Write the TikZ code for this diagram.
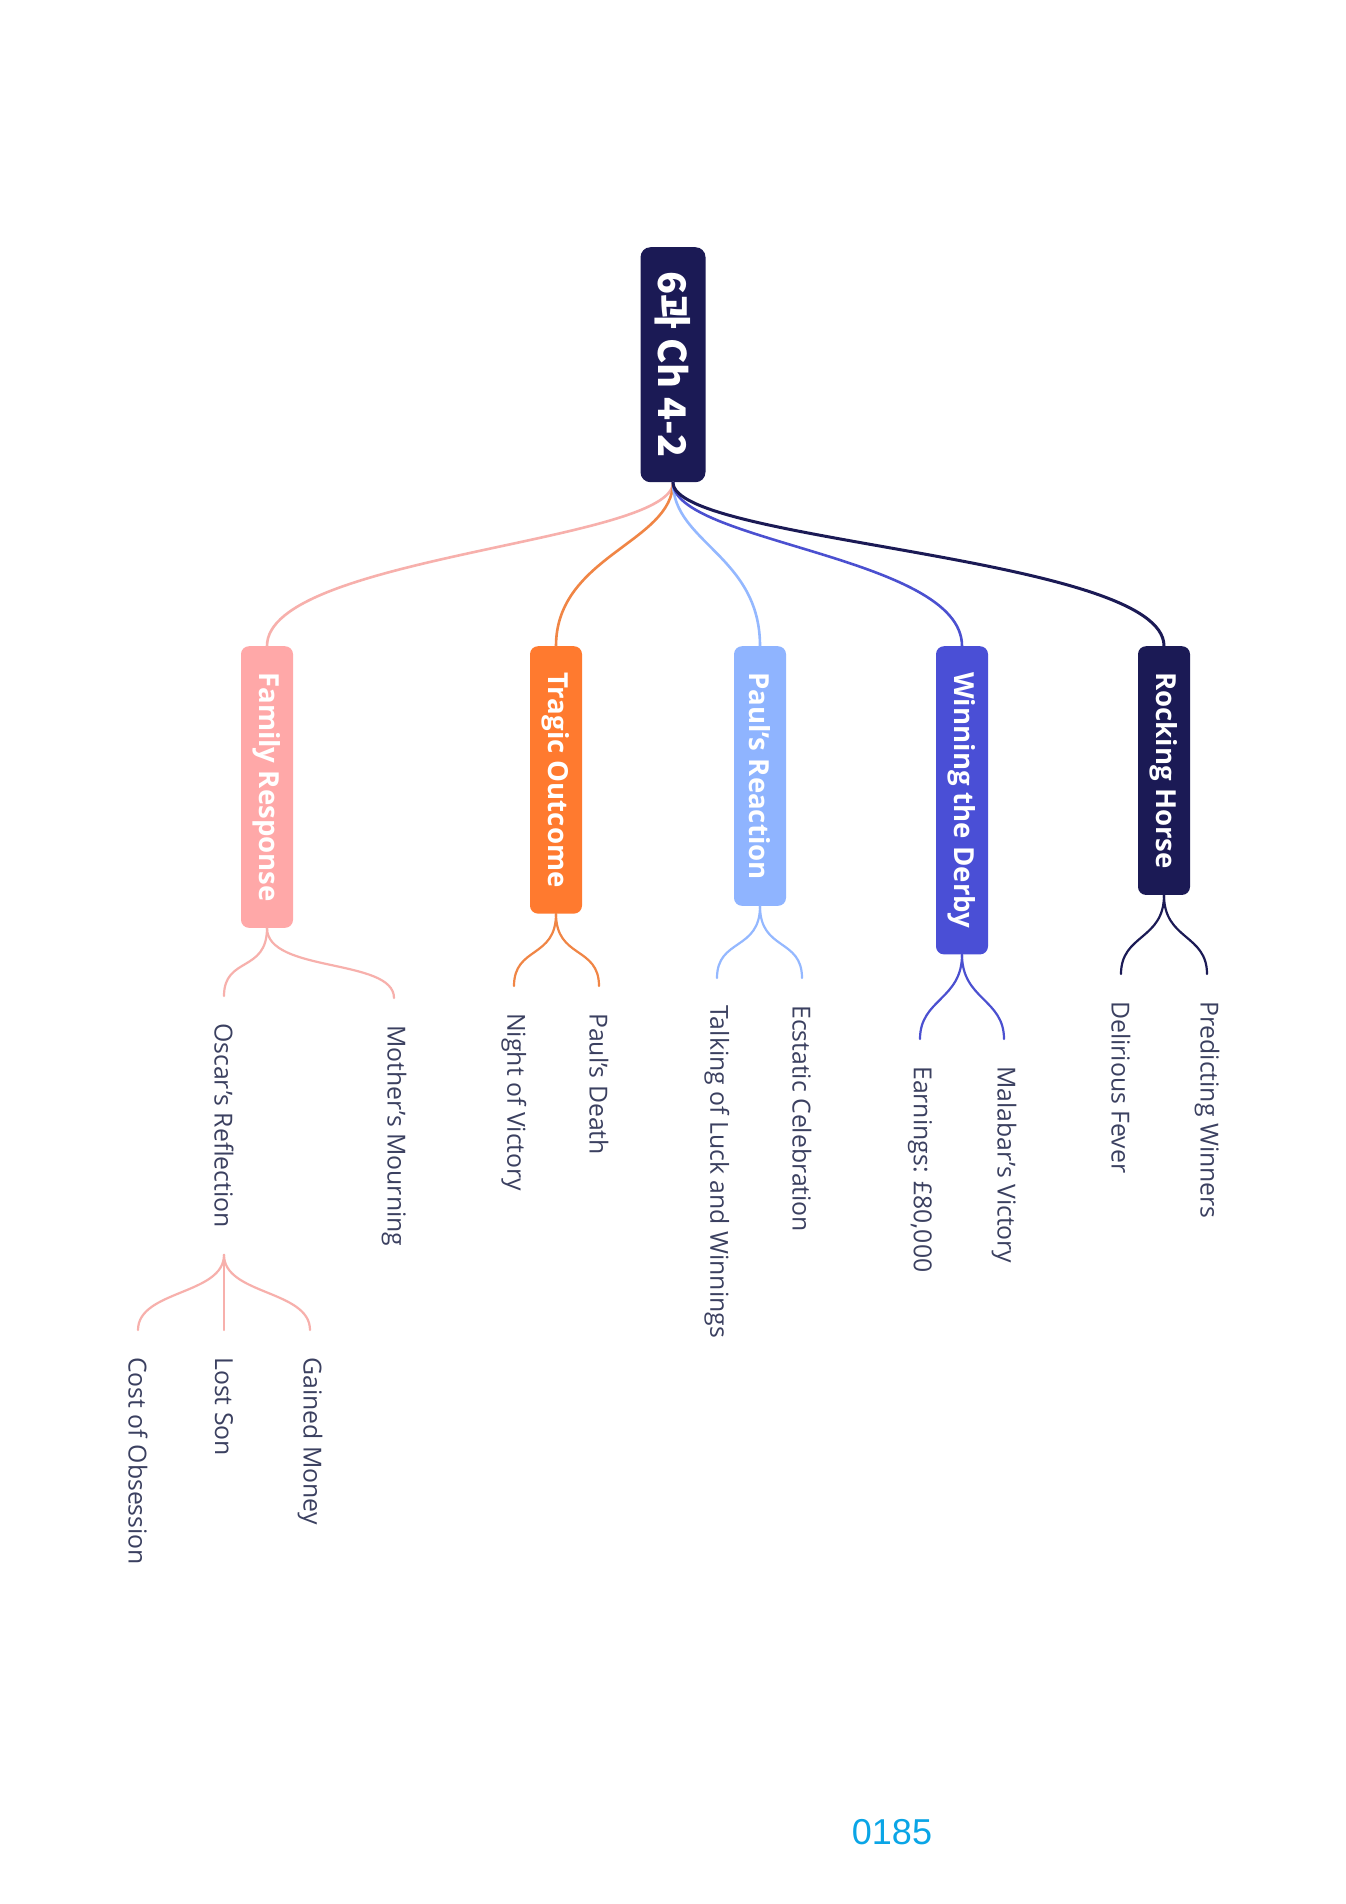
\documentclass[tikz,border=0pt]{standalone}
\usepackage{fontspec}
\setmainfont{Open Sans}
\newfontfamily\cjk{Noto Sans CJK KR}
\newfontfamily\arialfont{Liberation Sans}
\definecolor{navy}{HTML}{1B1A55}
\definecolor{cwin}{HTML}{4A4FD6}
\definecolor{cpaul}{HTML}{8FB4FF}
\definecolor{ctrag}{HTML}{FF7A2F}
\definecolor{cfam}{HTML}{FFA8A8}
\definecolor{lfam}{HTML}{F7B0AC}
\definecolor{ltrag}{HTML}{F08545}
\definecolor{lpaul}{HTML}{94B8FF}
\definecolor{lwin}{HTML}{4B50D0}
\definecolor{leaftext}{HTML}{3B4060}
\definecolor{numblue}{HTML}{0AA5E6}
\begin{document}
\begin{tikzpicture}[x=1pt,y=-1pt,
  leaf/.style={rotate=-90,anchor=west,inner xsep=27pt,inner ysep=2pt,font=\fontsize{24.8}{28}\selectfont,text=leaftext},
  branch/.style={rotate=-90,anchor=west,rounded corners=8pt,minimum height=52pt,inner xsep=26pt,font=\fontsize{27.6}{30}\selectfont\bfseries,text=white},
  rconn/.style={line width=2.6pt,line cap=round},
  lconn/.style={line width=2.2pt,line cap=round}]
\fill[white] (0,0) rectangle (1346,1904);
\useasboundingbox (0,0) rectangle (1346,1904);
% root
\node[rotate=-90,anchor=west,fill=navy,rounded corners=10pt,minimum height=65pt,minimum width=235pt,inner xsep=20pt,text=white,font=\cjk\bfseries\fontsize{38}{42}\selectfont] (root) at (673,247) {6과 Ch 4-2};
% branches
\node[branch,fill=cfam] (fam) at (267,646) {Family Response};
\node[branch,fill=ctrag] (trag) at (556,646) {Tragic Outcome};
\node[branch,fill=cpaul] (paul) at (760,646) {Paul's Reaction};
\node[branch,fill=cwin] (win) at (962,646) {Winning the Derby};
\node[branch,fill=navy] (rock) at (1164,646) {Rocking Horse};
% leaves
\node[leaf] (osc) at (224,996) {Oscar's Reflection};
\node[leaf] (moth) at (394,998) {Mother's Mourning};
\node[leaf] (night) at (514,986) {Night of Victory};
\node[leaf] (pdeath) at (599,986) {Paul's Death};
\node[leaf] (talk) at (717,978) {Talking of Luck and Winnings};
\node[leaf] (ecst) at (802,978) {Ecstatic Celebration};
\node[leaf] (earn) at (920,1039) {Earnings: £80,000};
\node[leaf] (mala) at (1004,1039) {Malabar's Victory};
\node[leaf] (deli) at (1121,974) {Delirious Fever};
\node[leaf] (pred) at (1207,974) {Predicting Winners};
\node[leaf] (cost) at (138,1330) {Cost of Obsession};
\node[leaf] (lost) at (224,1330) {Lost Son};
\node[leaf] (gain) at (310,1330) {Gained Money};
% root connectors
\draw[rconn,lfam] (root.east) .. controls +(0,60) and +(0,-90) .. (fam.west);
\draw[rconn,ltrag] (root.east) .. controls +(0,60) and +(0,-90) .. (trag.west);
\draw[rconn,lpaul] (root.east) .. controls +(0,60) and +(0,-90) .. (paul.west);
\draw[rconn,lwin] (root.east) .. controls +(0,60) and +(0,-90) .. (win.west);
\draw[rconn,navy,line width=3pt] (root.east) .. controls +(0,60) and +(0,-90) .. (rock.west);
% leaf connectors
\draw[lconn,lfam] (fam.east) .. controls +(0,45) and +(0,-40) .. (osc.west);
\draw[lconn,lfam] (fam.east) .. controls +(0,45) and +(0,-40) .. (moth.west);
\draw[lconn,ltrag] (trag.east) .. controls +(0,45) and +(0,-40) .. (night.west);
\draw[lconn,ltrag] (trag.east) .. controls +(0,45) and +(0,-40) .. (pdeath.west);
\draw[lconn,lpaul] (paul.east) .. controls +(0,45) and +(0,-40) .. (talk.west);
\draw[lconn,lpaul] (paul.east) .. controls +(0,45) and +(0,-40) .. (ecst.west);
\draw[lconn,lwin] (win.east) .. controls +(0,45) and +(0,-40) .. (earn.west);
\draw[lconn,lwin] (win.east) .. controls +(0,45) and +(0,-40) .. (mala.west);
\draw[lconn,navy] (rock.east) .. controls +(0,45) and +(0,-40) .. (deli.west);
\draw[lconn,navy] (rock.east) .. controls +(0,45) and +(0,-40) .. (pred.west);
\draw[lconn,lfam] (osc.east) .. controls +(0,40) and +(0,-40) .. (cost.west);
\draw[lconn,lfam] (osc.east) -- (lost.west);
\draw[lconn,lfam] (osc.east) .. controls +(0,40) and +(0,-40) .. (gain.west);
% page number
\node[font=\arialfont\fontsize{36}{40}\selectfont,text=numblue] (num) at (892,1832) {0185};
\end{tikzpicture}
\end{document}
